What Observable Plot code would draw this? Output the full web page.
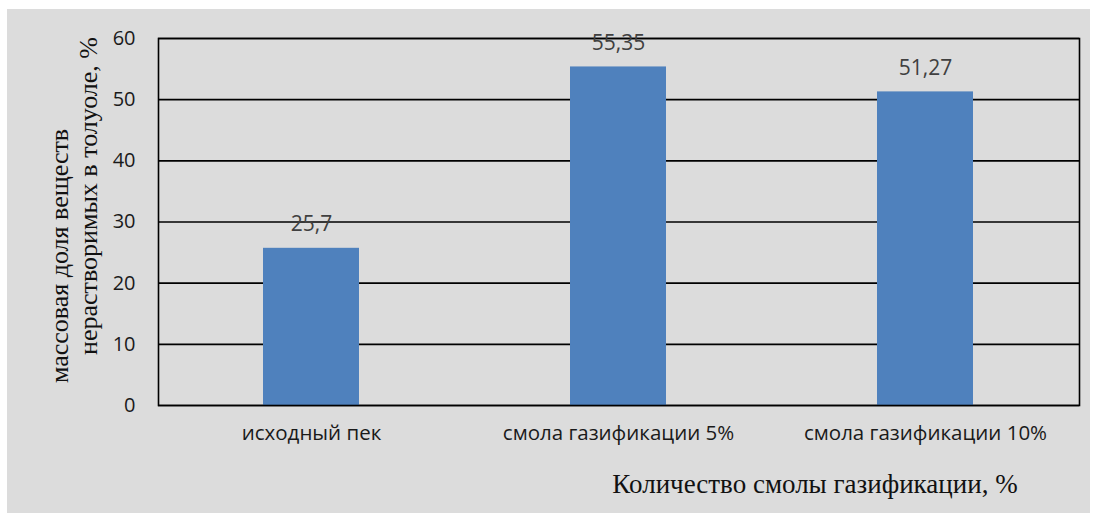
<!DOCTYPE html>
<html>
<head>
<meta charset="utf-8">
<script src="https://cdn.jsdelivr.net/npm/d3@7"></script>
<script src="https://cdn.jsdelivr.net/npm/@observablehq/plot@0.6"></script>
<style>
  html, body { margin: 0; padding: 0; background: #ffffff; }
  #panel { position: absolute; left: 7px; top: 9px; width: 1083px; height: 504px; background: #dcdcdc; }
  #chart { position: absolute; left: 0; top: 0; }
</style>
</head>
<body>
<div id="panel"></div>
<div id="chart"></div>
<script>
// Insoluble-in-toluene mass fraction by sample
const categories = ["исходный пек", "смола газификации 5%", "смола газификации 10%"];
const values = [25.7, 55.35, 51.27];
const yTicks = [0, 10, 20, 30, 40, 50, 60];
const yTitleLines = ["массовая доля веществ", "нерастворимых в толуоле, %"];
const xTitle = "Количество смолы газификации, %";

const data = categories.map((c, i) => ({category: c, value: values[i]}));
const fmt = v => String(v).replace(".", ",");

const serif = "'Liberation Serif', 'DejaVu Serif', serif";

const chart = Plot.plot({
  width: 1096,
  height: 515,
  marginLeft: 158,
  marginRight: 17,
  marginTop: 38,
  marginBottom: 110,
  style: {background: "transparent", fontFamily: "'Open Sans', sans-serif", overflow: "visible"},
  x: {domain: categories, paddingInner: 0.687, paddingOuter: 0.3435, label: null},
  y: {domain: [0, 60], ticks: yTicks, label: null},
  marks: [
    Plot.ruleY(yTicks, {stroke: "#000", strokeWidth: 1.6}),
    Plot.barY(data, {x: "category", y: "value", fill: "#4f81bd"}),
    Plot.frame({stroke: "#000", strokeWidth: 1.6}),
    Plot.axisY({ticks: yTicks, tickSize: 0, tickPadding: 23, fontSize: 20, fill: "#1a1a1a", label: null}),
    Plot.axisX({tickSize: 0, tickPadding: 20, fontSize: 20.5, fill: "#1a1a1a", label: null}),
    Plot.text(data, {x: "category", y: "value", text: d => fmt(d.value), dy: -24, fontSize: 21, fill: "#404040"}),
    Plot.text([yTitleLines[0]], {frameAnchor: "left", textAnchor: "middle", rotate: -90, dx: -99, dy: 34, fontSize: 26, fontFamily: serif, fill: "#111"}),
    Plot.text([yTitleLines[1]], {frameAnchor: "left", textAnchor: "middle", rotate: -90, dx: -70, dy: -26, fontSize: 26, fontFamily: serif, fill: "#111"}),
    Plot.text([xTitle], {frameAnchor: "bottom", dx: 196, dy: 87, fontSize: 27, fontFamily: serif, fill: "#111"})
  ]
});
document.getElementById("chart").append(chart);
</script>
</body>
</html>
